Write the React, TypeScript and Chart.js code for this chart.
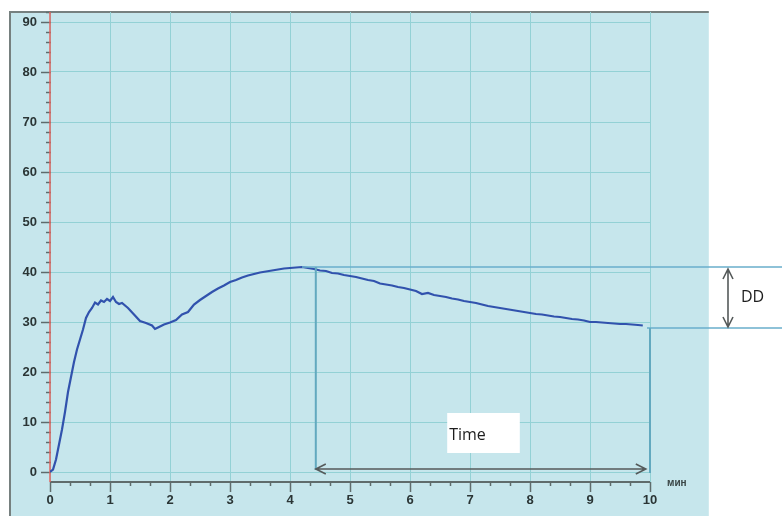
import React, { useEffect, useRef } from "react";
import { Chart, registerables } from "chart.js";

Chart.register(...registerables);

// time, min
const timeValues: number[] = [
  0, 0.05, 0.1, 0.15, 0.2, 0.25, 0.3, 0.35, 0.4, 0.45, 0.5, 0.55, 0.6, 0.65, 0.7, 0.75, 0.8, 0.85, 0.9, 0.95,
  1.0, 1.05, 1.1, 1.15, 1.2, 1.3, 1.4, 1.5, 1.6, 1.7, 1.75, 1.8, 1.9, 2.0, 2.1, 2.2, 2.3, 2.4, 2.5, 2.6,
  2.7, 2.8, 2.9, 3.0, 3.1, 3.2, 3.3, 3.4, 3.5, 3.6, 3.7, 3.8, 3.9, 4.0, 4.1, 4.2, 4.3, 4.4, 4.5, 4.6,
  4.7, 4.8, 4.9, 5.0, 5.1, 5.2, 5.3, 5.4, 5.5, 5.6, 5.7, 5.8, 5.9, 6.0, 6.1, 6.2, 6.3, 6.4, 6.5, 6.6,
  6.7, 6.8, 6.9, 7.0, 7.1, 7.2, 7.3, 7.4, 7.5, 7.6, 7.7, 7.8, 7.9, 8.0, 8.1, 8.2, 8.3, 8.4, 8.5, 8.6,
  8.7, 8.8, 8.9, 9.0, 9.1, 9.2, 9.3, 9.4, 9.5, 9.6, 9.7, 9.8, 9.88,
];
const signalValues: number[] = [
  0, 0.5, 2.5, 5.5, 8.5, 12, 16, 19, 22, 24.5, 26.5, 28.5, 30.8, 32, 32.8, 33.9, 33.5, 34.3, 34.0, 34.6,
  34.2, 35.0, 34.0, 33.6, 33.8, 32.8, 31.5, 30.2, 29.8, 29.3, 28.6, 28.9, 29.5, 29.9, 30.4, 31.5, 32.0, 33.5, 34.4, 35.2,
  36.0, 36.7, 37.3, 38.0, 38.4, 38.9, 39.3, 39.6, 39.9, 40.1, 40.3, 40.5, 40.7, 40.8, 40.9, 41.0, 40.8, 40.6, 40.3, 40.2,
  39.8, 39.7, 39.4, 39.2, 39.0, 38.7, 38.4, 38.2, 37.7, 37.5, 37.3, 37.0, 36.8, 36.5, 36.2, 35.6, 35.8, 35.4, 35.2, 35.0,
  34.7, 34.5, 34.2, 34.0, 33.8, 33.5, 33.2, 33.0, 32.8, 32.6, 32.4, 32.2, 32.0, 31.8, 31.6, 31.5, 31.3, 31.1, 31.0, 30.8,
  30.6, 30.5, 30.3, 30.0, 30.0, 29.9, 29.8, 29.7, 29.6, 29.6, 29.5, 29.4, 29.3,
];

const xTickValues: number[] = [0, 1, 2, 3, 4, 5, 6, 7, 8, 9, 10];
const yTickValues: number[] = [0, 10, 20, 30, 40, 50, 60, 70, 80, 90];
const xUnitLabel = "мин";

// annotation values
const peakTime = 4.2;
const peakLevel = 41;
const endTime = 9.95;
const endLevel = 28.8;
const timeStart = 4.43;
const arrowLevel = 0.6;
const timeLabel = "Time";
const ddLabel = "DD";

const annotationPlugin = {
  id: "decor",
  beforeDraw(chart: any) {
    const ctx = chart.ctx;
    const xs = chart.scales.x;
    const area = chart.chartArea;
    const left = area.left - 40;
    const right = xs.getPixelForValue(10.98);
    const top = area.top;
    ctx.save();
    ctx.fillStyle = "#c6e6ec";
    ctx.fillRect(left, top, right - left, chart.height - top);
    ctx.strokeStyle = "#76807f";
    ctx.lineWidth = 2;
    ctx.beginPath();
    ctx.moveTo(left, chart.height);
    ctx.lineTo(left, top);
    ctx.lineTo(right, top);
    ctx.stroke();
    ctx.restore();
  },
  beforeDatasetsDraw(chart: any) {
    const ctx = chart.ctx;
    const xs = chart.scales.x;
    const ys = chart.scales.y;
    const area = chart.chartArea;
    const x0 = xs.getPixelForValue(0);
    const x10 = xs.getPixelForValue(10);
    ctx.save();
    ctx.strokeStyle = "#5f6c6c";
    ctx.lineWidth = 2;
    ctx.beginPath();
    ctx.moveTo(x0, area.bottom);
    ctx.lineTo(x10, area.bottom);
    ctx.stroke();
    ctx.lineWidth = 1.5;
    for (let i = 0; i <= 30; i++) {
      const v = i / 3;
      const px = Math.round(xs.getPixelForValue(v)) + 0.5;
      const major = i % 3 === 0;
      ctx.beginPath();
      ctx.moveTo(px, area.bottom);
      ctx.lineTo(px, area.bottom + (major ? 10 : 4));
      ctx.stroke();
    }
    for (let v = 0; v <= 92; v += 2) {
      const py = Math.round(ys.getPixelForValue(v)) + 0.5;
      const major = v % 10 === 0;
      ctx.beginPath();
      ctx.moveTo(x0 - (major ? 9 : 4), py);
      ctx.lineTo(x0 + 1, py);
      ctx.stroke();
    }
    ctx.strokeStyle = "#e2655f";
    ctx.lineWidth = 1.5;
    ctx.beginPath();
    ctx.moveTo(x0, area.top);
    ctx.lineTo(x0, area.bottom);
    ctx.stroke();
    ctx.fillStyle = "#3a4646";
    ctx.font = "bold 10px 'Liberation Sans', Arial, sans-serif";
    ctx.textBaseline = "middle";
    ctx.textAlign = "left";
    ctx.fillText(xUnitLabel, x10 + 17, area.bottom + 1);
    ctx.restore();
  },
  afterDatasetsDraw(chart: any) {
    const ctx = chart.ctx;
    const xs = chart.scales.x;
    const ys = chart.scales.y;
    const W = chart.width;
    const yPeak = ys.getPixelForValue(peakLevel);
    const yEnd = ys.getPixelForValue(endLevel);
    const yArrow = ys.getPixelForValue(arrowLevel);
    const xStart = xs.getPixelForValue(timeStart);
    const xEnd = xs.getPixelForValue(10);
    ctx.save();
    ctx.strokeStyle = "#6aaecb";
    ctx.lineWidth = 1.5;
    ctx.beginPath();
    ctx.moveTo(xs.getPixelForValue(peakTime), yPeak);
    ctx.lineTo(W, yPeak);
    ctx.moveTo(xs.getPixelForValue(endTime), yEnd);
    ctx.lineTo(W, yEnd);
    ctx.stroke();
    ctx.strokeStyle = "#62a9bf";
    ctx.lineWidth = 2;
    ctx.beginPath();
    ctx.moveTo(xStart, yPeak);
    ctx.lineTo(xStart, yArrow + 1);
    ctx.moveTo(xEnd, yEnd);
    ctx.lineTo(xEnd, ys.getPixelForValue(-0.2));
    ctx.stroke();

    ctx.strokeStyle = "#555a5a";
    ctx.lineWidth = 1.6;
    const ax1 = xStart;
    const ax2 = xs.getPixelForValue(9.93);
    ctx.beginPath();
    ctx.moveTo(ax1, yArrow);
    ctx.lineTo(ax2, yArrow);
    ctx.moveTo(ax1 + 10, yArrow - 5);
    ctx.lineTo(ax1, yArrow);
    ctx.lineTo(ax1 + 10, yArrow + 5);
    ctx.moveTo(ax2 - 10, yArrow - 5);
    ctx.lineTo(ax2, yArrow);
    ctx.lineTo(ax2 - 10, yArrow + 5);
    ctx.stroke();

    const bx1 = xs.getPixelForValue(6.62);
    const bx2 = xs.getPixelForValue(7.83);
    const by1 = ys.getPixelForValue(11.8);
    const by2 = ys.getPixelForValue(3.8);
    ctx.fillStyle = "#ffffff";
    ctx.fillRect(bx1, by1, bx2 - bx1, by2 - by1);
    ctx.fillStyle = "#1e1e1e";
    ctx.font = "16px 'Open Sans', 'DejaVu Sans', sans-serif";
    ctx.textBaseline = "middle";
    ctx.textAlign = "left";
    ctx.fillText(timeLabel, bx1 + 2, (by1 + by2) / 2 + 2);

    const dx = xs.getPixelForValue(11.3);
    ctx.strokeStyle = "#555a5a";
    ctx.lineWidth = 1.6;
    const t = yPeak + 2;
    const b = yEnd - 1;
    ctx.beginPath();
    ctx.moveTo(dx, t);
    ctx.lineTo(dx, b);
    ctx.moveTo(dx - 5, t + 10);
    ctx.lineTo(dx, t);
    ctx.lineTo(dx + 5, t + 10);
    ctx.moveTo(dx - 5, b - 10);
    ctx.lineTo(dx, b);
    ctx.lineTo(dx + 5, b - 10);
    ctx.stroke();
    ctx.fillStyle = "#1e1e1e";
    ctx.font = "16px 'Open Sans', 'DejaVu Sans', sans-serif";
    ctx.fillText(ddLabel, dx + 13, (yPeak + yEnd) / 2);
    ctx.restore();
  },
};

export default function App() {
  const canvasRef = useRef<HTMLCanvasElement | null>(null);

  useEffect(() => {
    if (!canvasRef.current) return;
    const points = timeValues.map((t, i) => ({ x: t, y: signalValues[i] }));
    const tickFont = { family: "'Liberation Sans', Arial, sans-serif", size: 13, weight: "bold" as const };
    const chart = new Chart(canvasRef.current, {
      type: "line",
      data: {
        datasets: [
          {
            data: points,
            borderColor: "#3152ad",
            borderWidth: 2.2,
            pointRadius: 0,
            tension: 0,
            fill: false,
          },
        ],
      },
      options: {
        animation: false,
        responsive: false,
        maintainAspectRatio: false,
        layout: { autoPadding: false, padding: { left: 10, top: 12, right: 132, bottom: 0 } },
        plugins: { legend: { display: false }, title: { display: false }, tooltip: { enabled: false } },
        scales: {
          x: {
            type: "linear",
            min: 0,
            max: 10,
            afterBuildTicks: (s: any) => {
              s.ticks = xTickValues.map((v) => ({ value: v }));
            },
            afterFit: (s: any) => {
              s.height = 34;
              s.paddingLeft = 0;
              s.paddingRight = 0;
            },
            ticks: { font: tickFont, color: "#2a3535", padding: 11, maxRotation: 0, autoSkip: false },
            grid: { color: "#93d1d5", lineWidth: 1, drawTicks: false },
            border: { display: false },
          },
          y: {
            type: "linear",
            min: -2,
            max: 92,
            afterBuildTicks: (s: any) => {
              s.ticks = yTickValues.map((v) => ({ value: v }));
            },
            afterFit: (s: any) => {
              s.width = 40;
              s.paddingTop = 0;
              s.paddingBottom = 0;
            },
            ticks: { font: tickFont, color: "#2a3535", padding: 13, autoSkip: false },
            grid: { color: "#93d1d5", lineWidth: 1, drawTicks: false },
            border: { display: false },
          },
        },
      },
      plugins: [annotationPlugin],
    });
    return () => chart.destroy();
  }, []);

  return (
    <div style={{ position: "fixed", left: 0, top: 0, width: 782, height: 516, background: "#ffffff" }}>
      <canvas ref={canvasRef} width={782} height={516} style={{ display: "block", width: 782, height: 516 }} />
    </div>
  );
}
